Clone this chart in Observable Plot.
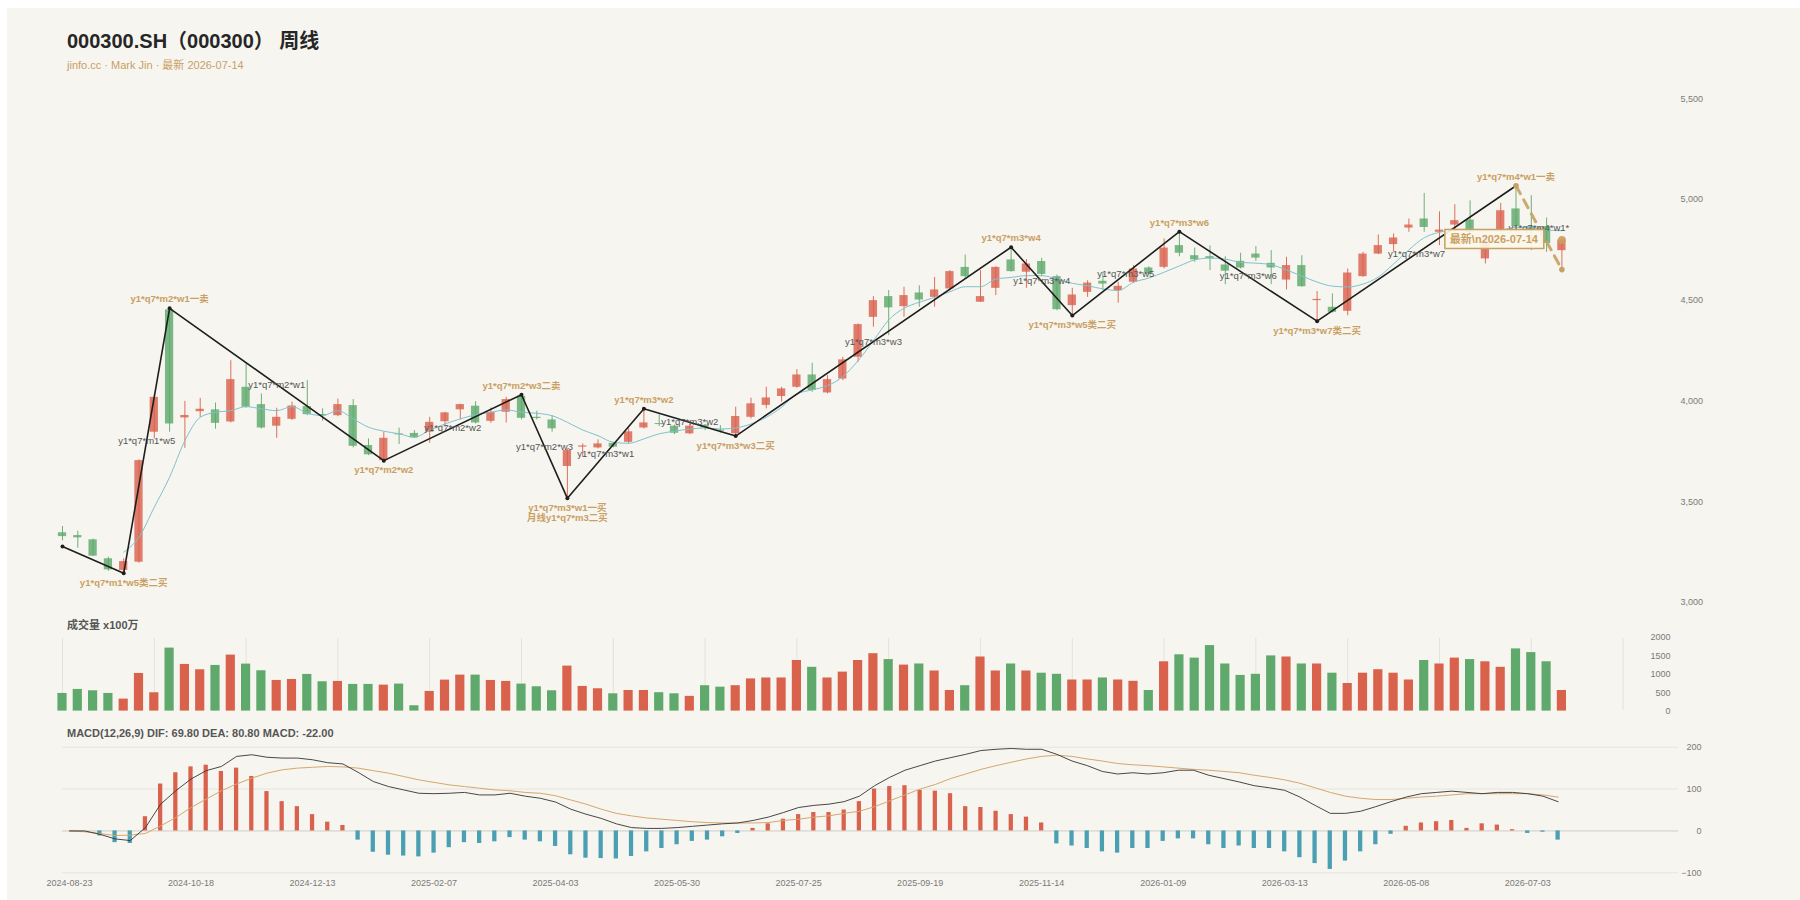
<!DOCTYPE html>
<html lang="zh">
<head>
<meta charset="utf-8">
<script src="https://cdn.jsdelivr.net/npm/d3@7"></script>
<script src="https://cdn.jsdelivr.net/npm/@observablehq/plot@0.6"></script>
<style>
html,body{margin:0;padding:0;background:#ffffff;}
body{width:1800px;height:900px;position:relative;overflow:hidden;font-family:"Liberation Sans",Arial,"Noto Sans CJK SC",sans-serif;}
#panel{position:absolute;left:7px;top:8px;width:1793px;height:892px;background:#f7f5f0;}
.t{position:absolute;left:67px;line-height:1;white-space:nowrap;}
#title{top:31px;font-size:20px;font-weight:bold;color:#262626;}
#subtitle{top:60px;font-size:11px;color:#c9a063;}
#voltitle{top:620px;font-size:11px;font-weight:bold;color:#555;}
#macdtitle{top:728px;font-size:11px;font-weight:bold;color:#555;}
.chart{position:absolute;left:0;width:1800px;}
#candle{top:80px;} #vol{top:630px;} #macd{top:740px;}
</style>
</head>
<body>
<div id="panel"></div>
<div class="t" id="title"></div>
<div class="t" id="subtitle"></div>
<div class="t" id="voltitle"></div>
<div class="t" id="macdtitle"></div>
<div class="chart" id="candle"></div>
<div class="chart" id="vol"></div>
<div class="chart" id="macd"></div>
<script>
// ---------- data ----------
const symbol = "000300.SH（000300） 周线";
const dates = ["2024-08-23","2024-08-30","2024-09-06","2024-09-13","2024-09-20","2024-09-27","2024-09-30","2024-10-11","2024-10-18","2024-10-25",
"2024-11-01","2024-11-08","2024-11-15","2024-11-22","2024-11-29","2024-12-06","2024-12-13","2024-12-20","2024-12-27","2025-01-03",
"2025-01-10","2025-01-17","2025-01-24","2025-01-27","2025-02-07","2025-02-14","2025-02-21","2025-02-28","2025-03-07","2025-03-14",
"2025-03-21","2025-03-28","2025-04-03","2025-04-11","2025-04-18","2025-04-25","2025-04-30","2025-05-09","2025-05-16","2025-05-23",
"2025-05-30","2025-06-06","2025-06-13","2025-06-20","2025-06-27","2025-07-04","2025-07-11","2025-07-18","2025-07-25","2025-08-01",
"2025-08-08","2025-08-15","2025-08-22","2025-08-29","2025-09-05","2025-09-12","2025-09-19","2025-09-26","2025-09-30","2025-10-10",
"2025-10-17","2025-10-24","2025-10-31","2025-11-07","2025-11-14","2025-11-21","2025-11-28","2025-12-05","2025-12-12","2025-12-19",
"2025-12-26","2025-12-31","2026-01-09","2026-01-16","2026-01-23","2026-01-30","2026-02-06","2026-02-13","2026-02-27","2026-03-06",
"2026-03-13","2026-03-20","2026-03-27","2026-04-03","2026-04-10","2026-04-17","2026-04-24","2026-04-30","2026-05-08","2026-05-15",
"2026-05-22","2026-05-29","2026-06-05","2026-06-12","2026-06-18","2026-06-26","2026-07-03","2026-07-10","2026-07-14"];

const openP = [3346,3332,3311,3217,3159,3200,3845,4452,3916,3947,3956,3896,4068,3982,3875,3909,3972,3933,3927,3977,
3779,3704,3837,3839,3845,3897,3956,3974,3899,3944,4023,3919,3906,3675,3771,3767,3790,3795,3866,3888,
3875,3837,3880,3856,3837,3919,3978,4022,4068,4129,4040,4109,4217,4415,4518,4468,4536,4514,4556,4663,
4490,4559,4700,4639,4692,4617,4473,4539,4594,4548,4589,4660,4663,4771,4721,4716,4675,4693,4729,4683,
4600,4672,4498,4465,4445,4617,4729,4776,4858,4903,4837,4873,4898,4705,4840,4953,4865,4865,4746];
const highP = [3377,3354,3315,3225,3217,3708,4030,4460,3998,4013,3990,4200,4184,4035,3964,3994,4101,3961,4010,4007,
3812,3845,3865,3853,3919,3944,3984,3997,3965,4018,4035,3949,3927,3762,3787,3807,3795,3861,3961,3931,
3880,3886,3883,3878,3969,4014,4068,4068,4156,4187,4126,4217,4382,4518,4548,4564,4572,4613,4647,4724,
4647,4666,4766,4702,4708,4625,4559,4597,4639,4589,4672,4666,4804,4845,4759,4769,4716,4733,4766,4746,
4713,4721,4543,4531,4655,4738,4824,4829,4903,5030,4939,4974,4993,4800,4981,5068,5019,4908,4809];
const lowP = [3306,3269,3228,3155,3142,3195,3812,3845,3765,3919,3860,3891,3964,3861,3815,3903,3927,3899,3922,3767,
3729,3696,3784,3814,3790,3870,3906,3886,3889,3891,3906,3906,3845,3514,3721,3762,3767,3787,3861,3873,
3833,3833,3853,3841,3826,3911,3961,3994,4063,4043,4035,4101,4192,4366,4324,4415,4465,4465,4547,4605,
4490,4523,4639,4559,4617,4448,4424,4514,4548,4485,4584,4622,4655,4716,4688,4647,4577,4655,4693,4577,
4551,4564,4397,4436,4423,4614,4726,4738,4837,4837,4771,4837,4828,4680,4837,4837,4746,4738,4638];
const closeP = [3327,3321,3230,3162,3203,3704,4018,3886,3928,3959,3889,4106,3969,3866,3919,3975,3932,3926,3982,3775,
3733,3815,3832,3817,3894,3941,3982,3891,3944,4007,3914,3913,3862,3754,3777,3787,3771,3847,3891,3883,
3840,3875,3866,3850,3923,3986,4015,4060,4129,4052,4106,4204,4379,4498,4462,4523,4501,4551,4642,4617,
4518,4663,4642,4680,4628,4453,4526,4585,4580,4569,4655,4630,4759,4733,4700,4706,4644,4660,4709,4660,
4672,4567,4504,4440,4635,4729,4771,4809,4873,4861,4848,4895,4837,4790,4944,4865,4845,4782,4799];
const ma = [null,null,null,null,3250,3324,3473,3622,3803,3919,3944,3952,3972,3961,3952,3972,3939,3928,3952,3911,
3870,3850,3837,3820,3855,3886,3911,3932,3944,3956,3944,3939,3927,3894,3856,3828,3795,3790,3812,3837,
3850,3861,3866,3861,3866,3886,3919,3969,4035,4055,4076,4121,4200,4299,4402,4460,4490,4514,4542,4567,
4567,4605,4613,4622,4622,4605,4584,4572,4556,4548,4589,4610,4639,4670,4700,4709,4704,4688,4684,4676,
4650,4620,4590,4570,4566,4580,4615,4680,4750,4810,4837,4848,4853,4845,4848,4861,4861,4848,4845];
const volume = [480,589,552,480,326,1023,498,1712,1268,1123,1241,1522,1277,1096,833,860,996,797,806,725,
725,706,734,145,534,842,978,978,833,806,734,661,552,1223,670,607,470,560,560,500,
470,400,690,650,690,875,900,900,1375,1190,900,1060,1375,1560,1400,1250,1280,1090,560,690,
1470,1090,1280,1090,1030,1000,845,845,900,845,810,560,1340,1530,1440,1780,1280,970,1000,1500,
1470,1280,1280,1030,750,1030,1125,1030,845,1375,1280,1440,1400,1340,1190,1690,1590,1340,560];
const dif = [0,0,-8,-19,-23,8,64,96,124,144,154,178,182,176,174,174,170,163,160,140,
118,106,98,90,89,90,92,86,86,90,83,78,69,52,40,30,17,8,6,6,
8,11,14,17,19,25,33,44,56,61,64,70,83,108,128,145,156,167,175,183,
192,195,197,195,195,183,167,156,142,136,139,136,139,145,145,133,125,117,108,103,
97,81,61,42,42,47,58,70,81,89,92,95,92,89,92,92,89,83,69.8];
const dea = [0,-2,-6,-11,-10,-6,12,32,56,76,96,112,126,138,146,150,152,154,153,150,
144,138,130,122,116,110,106,102,98,96,92,90,84,74,64,52,42,36,31,28,
25,22,20,19,19,19,20,25,28,33,36,42,47,58,72,86,100,111,125,136,
147,156,164,172,178,181,178,172,167,161,158,156,153,150,147,145,142,139,133,128,
122,114,103,92,83,78,75,75,78,81,83,86,89,89,89,89,89,86,80.8];
const macd = [0,0,-12,-28,-30,34,112,139,153,157,142,150,130,94,70,58,39,21,13,-22,
-51,-58,-60,-62,-53,-40,-28,-30,-26,-16,-22,-26,-37,-57,-65,-66,-67,-61,-50,-42,
-33,-25,-22,-14,-6,6,17,28,39,44,44,50,70,100,106,108,97,95,89,58,
56,47,39,33,19,-31,-36,-42,-50,-53,-42,-42,-25,-19,-19,-33,-42,-36,-42,-42,
-50,-64,-78,-92,-72,-50,-33,-8,11,19,22,25,6,17,14,3,-6,-3,-22];

// zigzag (笔) pivots
const zzIdx = [0,4,7,21,30,33,38,44,62,66,73,82,95];
const zzVal = [3278,3145,4460,3704,4031,3517,3961,3826,4763,4424,4840,4396,5068];
const zzTag = ["","y1*q7*m1*w5类二买","y1*q7*m2*w1一卖","y1*q7*m2*w2","y1*q7*m2*w3二卖",
  "y1*q7*m3*w1一买\n月线y1*q7*m3二买","y1*q7*m3*w2","y1*q7*m3*w3二买","y1*q7*m3*w4",
  "y1*q7*m3*w5类二买","y1*q7*m3*w6","y1*q7*m3*w7类二买","y1*q7*m4*w1一卖"];
const segTag = ["","y1*q7*m1*w5","y1*q7*m2*w1","y1*q7*m2*w2","y1*q7*m2*w3","y1*q7*m3*w1",
  "y1*q7*m3*w2","y1*q7*m3*w3","y1*q7*m3*w4","y1*q7*m3*w5","y1*q7*m3*w6","y1*q7*m3*w7"];
const pendIdx = [95,98];
const pendVal = [5068,4652];
const pendTag = "y1*q7*m4*w1*";

// ticks
const priceTicks = [3000,3500,4000,4500,5000,5500];
const volTicks = [0,500,1000,1500,2000];
const macdTicks = [-100,0,100,200];
const dateTickIdx = [0,8,16,24,32,40,48,56,64,72,80,88,96];
const volGridIdx = [0,6,12,18,24,30,36,42,48,54,60,66,72,78,84,90,96,102];

// ---------- style ----------
const FONT = '"Liberation Sans", Arial, "Noto Sans CJK SC", sans-serif';
const C_UP = "#d9624d", C_DN = "#5ea96b", C_BLUE = "#4a9fb3", GOLD = "#c9a063";
const N = dates.length;

document.getElementById("title").textContent = symbol;
document.getElementById("subtitle").textContent = "jinfo.cc · Mark Jin · 最新 " + dates[N-1];
document.getElementById("voltitle").textContent = "成交量 x100万";
document.getElementById("macdtitle").textContent =
  `MACD(12,26,9) DIF: ${dif[N-1].toFixed(2)} DEA: ${dea[N-1].toFixed(2)} MACD: ${macd[N-1].toFixed(2)}`;

const rows = dates.map((d,i)=>({i, date:d, open:openP[i], high:highP[i], low:lowP[i], close:closeP[i],
  vol:volume[i], ma:ma[i], dif:dif[i], dea:dea[i], macd:macd[i], up: closeP[i] >= openP[i]}));
const zz = zzIdx.map((i,k)=>({i, v:zzVal[k], tag:zzTag[k],
  hi: k>0 ? zzVal[k] > zzVal[k-1] : zzVal[k] > zzVal[k+1]}));
const pend = pendIdx.map((i,k)=>({i, v:pendVal[k]}));
const segs = zz.slice(0,-1).map((p,k)=>({i:(p.i+zz[k+1].i)/2, v:(p.v+zz[k+1].v)/2, tag:segTag[k]})).filter(d=>d.tag);
segs.push({i:(pend[0].i+pend[1].i)/2, v:(pend[0].v+pend[1].v)/2, tag:pendTag});
const last = rows.slice(-1);

const baseStyle = {background:"transparent", fontFamily:FONT, overflow:"visible"};

// ---------- candlestick panel ----------
const candle = Plot.plot({
  width:1800, height:535, marginLeft:62, marginRight:128, marginTop:18, marginBottom:13,
  style: baseStyle,
  x: {type:"linear", domain:[0,N-1], range:[62, 62+(N-1)*15.3], axis:null},
  y: {domain:[3000,5500], range:[522,18.2], label:null},
  color: {type:"identity"},
  marks: [
    Plot.axisY({ticks:priceTicks, anchor:"right", tickSize:0, tickPadding:8, tickFormat:d3.format(","), fontSize:9, fill:"#7a7a7a", label:null}),
    Plot.ruleX(rows, {x:"i", y1:"low", y2:"high", stroke:d=>d.up?C_UP:C_DN, strokeWidth:1, strokeOpacity:0.9}),
    Plot.rect(rows, {x1:d=>d.i-0.27, x2:d=>d.i+0.27, y1:"open", y2:"close", fill:d=>d.up?C_UP:C_DN, fillOpacity:0.82}),
    Plot.line(rows, {x:"i", y:"ma", stroke:"#7fc2ce", strokeWidth:1, curve:"monotone-x"}),
    Plot.line(zz, {x:"i", y:"v", stroke:"#1e1e1e", strokeWidth:1.6}),
    Plot.dot(zz, {x:"i", y:"v", r:2, fill:"#1e1e1e"}),
    Plot.line(pend, {x:"i", y:"v", stroke:GOLD, strokeWidth:3, strokeDasharray:"9,7", strokeOpacity:0.9}),
    Plot.dot(pend, {x:"i", y:"v", r:2.8, fill:GOLD}),
    Plot.dot(last, {x:"i", y:"close", r:4, fill:GOLD, fillOpacity:0.9}),
    Plot.text(segs, {x:"i", y:"v", text:"tag", fontSize:9.5, fill:"#555", lineAnchor:"middle"}),
    Plot.text(zz.filter(d=>d.tag && d.hi), {x:"i", y:"v", text:"tag", dy:-6, lineAnchor:"bottom", fontSize:9.5, fontWeight:"bold", fill:GOLD}),
    Plot.text(zz.filter(d=>d.tag && !d.hi), {x:"i", y:"v", text:"tag", dy:6, lineAnchor:"top", lineHeight:1, fontSize:9.5, fontWeight:"bold", fill:GOLD}),
    Plot.text(last, {x:"i", y:"close", text:d=>"最新\\n"+d.date, textAnchor:"end", dx:-24, fontSize:11, fontWeight:"bold", fill:GOLD, className:"latest-tag"})
  ]
});
document.getElementById("candle").append(candle);
// framed box behind the latest tag
{
  const txt = Array.from(candle.querySelectorAll("text")).find(t => t.textContent.startsWith("最新"));
  if (txt) {
    const bb = txt.getBBox();
    const r = document.createElementNS("http://www.w3.org/2000/svg","rect");
    r.setAttribute("x", bb.x-5); r.setAttribute("y", bb.y-3);
    r.setAttribute("width", bb.width+10); r.setAttribute("height", bb.height+6);
    const tf = txt.getAttribute("transform"); if (tf) r.setAttribute("transform", tf);
    r.setAttribute("fill", "#fbf6ea"); r.setAttribute("fill-opacity", "0.92");
    r.setAttribute("stroke", GOLD); r.setAttribute("stroke-width", "1.5");
    txt.parentNode.insertBefore(r, txt);
  }
}

// ---------- volume panel ----------
const vol = Plot.plot({
  width:1800, height:86, marginLeft:62, marginRight:158, marginTop:8, marginBottom:6,
  style: baseStyle,
  x: {type:"linear", domain:[0,N-1], range:[62, 62+(N-1)*15.3], axis:null},
  y: {domain:[0,2000], range:[80.6,7], label:null},
  color: {type:"identity"},
  marks: [
    Plot.gridX(volGridIdx, {stroke:"#e4e2db", strokeOpacity:1}),
    Plot.rect(rows, {x1:d=>d.i-0.3, x2:d=>d.i+0.3, y1:0, y2:"vol", fill:d=>d.up?C_UP:C_DN}),
    Plot.axisY({ticks:volTicks, anchor:"right", tickSize:0, tickPadding:28, textAnchor:"end", tickFormat:d=>String(d), fontSize:9, fill:"#7a7a7a", label:null})
  ]
});
document.getElementById("vol").append(vol);

// ---------- MACD panel ----------
const mac = Plot.plot({
  width:1800, height:160, marginLeft:62, marginRight:122, marginTop:6.7, marginBottom:27.7,
  style: baseStyle,
  x: {type:"linear", domain:[0,N-1], range:[69, 69+(N-1)*15.19], label:null},
  y: {domain:[-100,200], range:[132.3,6.7], label:null},
  color: {type:"identity"},
  marks: [
    Plot.gridY(macdTicks, {stroke:"#e6e4dd", strokeOpacity:1}),
    Plot.ruleY([0], {stroke:"#d6d4cd"}),
    Plot.rect(rows, {x1:d=>d.i-0.14, x2:d=>d.i+0.14, y1:0, y2:"macd", fill:d=>d.macd>=0?C_UP:C_BLUE}),
    Plot.line(rows, {x:"i", y:"dea", stroke:"#d3a86e", strokeWidth:1}),
    Plot.line(rows, {x:"i", y:"dif", stroke:"#333333", strokeWidth:0.9}),
    Plot.axisY({ticks:macdTicks, anchor:"right", tickSize:0, tickPadding:23, textAnchor:"end", fontSize:9, fill:"#7a7a7a", label:null}),
    Plot.axisX({ticks:dateTickIdx, tickSize:0, tickPadding:7, tickFormat:i=>dates[i], fontSize:9, fill:"#7a7a7a", label:null})
  ]
});
document.getElementById("macd").append(mac);
</script>
</body>
</html>
